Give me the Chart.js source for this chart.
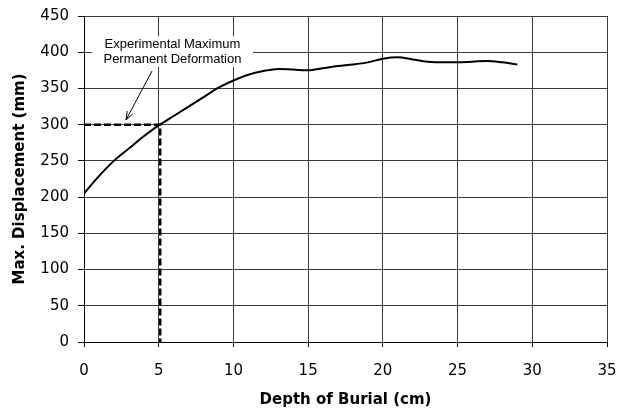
<!DOCTYPE html>
<html>
<head>
<meta charset="utf-8">
<script src="https://cdn.jsdelivr.net/npm/chart.js@4.4.1/dist/chart.umd.min.js"></script>
<style>
  html, body { margin: 0; padding: 0; background: #fff; }
  #wrap { width: 617px; height: 410px; position: relative; }
</style>
</head>
<body>
<div id="wrap"><canvas id="main-chart"></canvas></div>
<script>
// measured curve: depth of burial (cm) vs max displacement (mm)
const depthCm = [0, 1, 2, 3, 4, 5, 6, 7, 8, 9, 10, 11, 12, 13, 14, 15, 16, 17, 18, 19, 20, 21, 22, 23, 24, 25, 26, 27, 28, 29];
const maxDisplacementMm = [205, 229, 250, 267, 284, 299, 312, 325, 338, 351, 361, 369, 374, 377, 376, 375, 378, 381, 383, 386, 391, 393, 390, 387, 386, 386, 387, 388, 386, 383];

// dashed guide to the experimental value
const guideDepth = [0, 5.1, 5.1];
const guideDisp = [300, 300, 0];

// annotation (data coordinates)
const noteLines = ['Experimental Maximum', 'Permanent Deformation'];
const noteCenter = { x: 5.92, y: 411 };
const noteBox = { x0: 0.54, x1: 11.3, y0: 422, y1: 379.6 };
const arrowFrom = { x: 4.55, y: 374 };
const arrowTo = { x: 2.81, y: 306.5 };

const axisFont = { family: 'DejaVu Sans', size: 15 };
const titleFont = { family: 'DejaVu Sans', size: 15, weight: 'bold' };

const annotationPlugin = {
  id: 'annotation',
  beforeDatasetsDraw(chart) {
    const { ctx, scales } = chart;
    const xs = scales.x, ys = scales.y;
    ctx.save();
    // white box behind the text
    const bx0 = xs.getPixelForValue(noteBox.x0);
    const bx1 = xs.getPixelForValue(noteBox.x1);
    const by0 = ys.getPixelForValue(noteBox.y0);
    const by1 = ys.getPixelForValue(noteBox.y1);
    ctx.fillStyle = '#fff';
    ctx.fillRect(bx0, by0, bx1 - bx0, by1 - by0);

    ctx.fillStyle = '#000';
    ctx.font = '13px "Liberation Sans", Arial, sans-serif';
    ctx.textAlign = 'center';
    ctx.textBaseline = 'middle';
    const cx = xs.getPixelForValue(noteCenter.x);
    const cy = ys.getPixelForValue(noteCenter.y);
    noteLines.forEach((line, i) => ctx.fillText(line, cx, cy + i * 15));

    // arrow
    const ax0 = xs.getPixelForValue(arrowFrom.x), ay0 = ys.getPixelForValue(arrowFrom.y);
    const ax1 = xs.getPixelForValue(arrowTo.x), ay1 = ys.getPixelForValue(arrowTo.y);
    ctx.strokeStyle = '#000';
    ctx.lineWidth = 1;
    ctx.beginPath();
    ctx.moveTo(ax0, ay0);
    ctx.lineTo(ax1, ay1);
    const ang = Math.atan2(ay1 - ay0, ax1 - ax0);
    const head = 9;
    ctx.moveTo(ax1 - head * Math.cos(ang - 0.35), ay1 - head * Math.sin(ang - 0.35));
    ctx.lineTo(ax1, ay1);
    ctx.lineTo(ax1 - head * Math.cos(ang + 0.35), ay1 - head * Math.sin(ang + 0.35));
    ctx.stroke();
    ctx.restore();
  }
};

function setupMainChart() {
  const ctx = document.getElementById('main-chart').getContext('2d');
  return new Chart(ctx, {
    type: 'scatter',
    data: {
      datasets: [
        {
          label: 'Max. Displacement',
          data: depthCm.map((d, i) => ({ x: d, y: maxDisplacementMm[i] })),
          showLine: true,
          borderColor: '#000',
          borderWidth: 2,
          pointRadius: 0,
          tension: 0.4,
          cubicInterpolationMode: 'monotone',
        },
        {
          label: 'Experimental',
          data: guideDepth.map((d, i) => ({ x: d, y: guideDisp[i] })),
          showLine: true,
          borderColor: '#000',
          borderWidth: 2.5,
          borderDash: [7, 3],
          pointRadius: 0,
          tension: 0,
        },
      ],
    },
    options: {
      responsive: true,
      maintainAspectRatio: false,
      animation: false,
      layout: { padding: 0 },
      plugins: {
        legend: { display: false },
        tooltip: { enabled: false },
      },
      scales: {
        x: {
          type: 'linear',
          min: 0,
          max: 35,
          afterFit(scale) {
            scale.height = 68;
            scale.paddingLeft = 0;
            scale.paddingRight = 10;
          },
          border: { color: '#000', width: 1 },
          grid: { color: '#3a3a3a', tickLength: 5, tickColor: '#000' },
          ticks: { stepSize: 5, color: '#000', font: axisFont, padding: 15, maxRotation: 0 },
          title: {
            display: true,
            text: 'Depth of Burial (cm)',
            color: '#000',
            font: titleFont,
            padding: { top: 0, bottom: 1 },
          },
        },
        y: {
          type: 'linear',
          min: 0,
          max: 450,
          afterFit(scale) {
            scale.width = 84;
            scale.paddingTop = 16;
            scale.paddingBottom = 0;
          },
          border: { color: '#000', width: 1 },
          grid: { color: '#3a3a3a', tickLength: 6, tickColor: '#000' },
          ticks: { stepSize: 50, color: '#000', font: axisFont, padding: 9 },
          title: {
            display: true,
            text: 'Max. Displacement (mm)',
            color: '#000',
            font: titleFont,
            padding: { top: 11, bottom: 0 },
          },
        },
      },
    },
    plugins: [annotationPlugin],
  });
}

setupMainChart();
</script>
</body>
</html>
